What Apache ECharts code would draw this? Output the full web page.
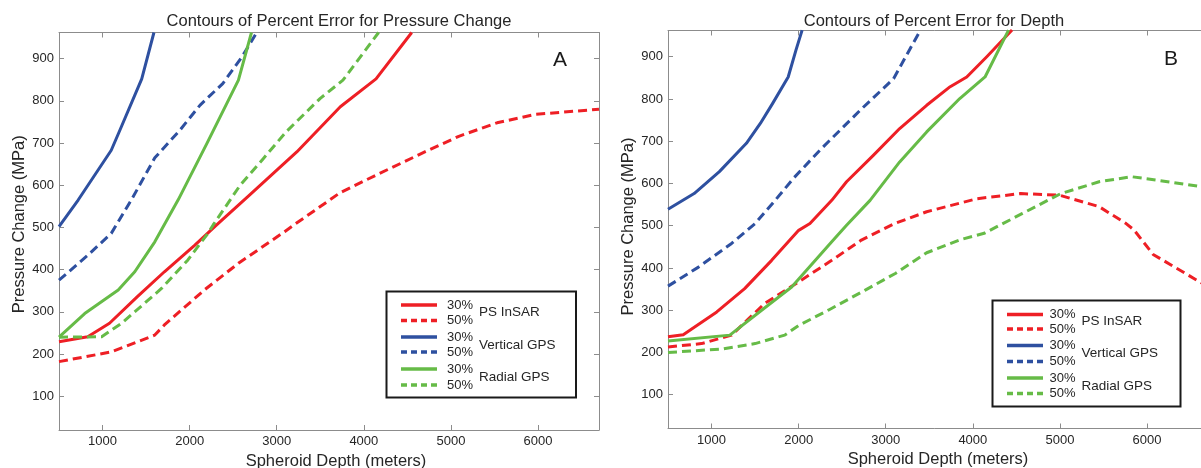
<!DOCTYPE html>
<html>
<head>
<meta charset="utf-8">
<script src="https://cdn.jsdelivr.net/npm/echarts@6/dist/echarts.min.js"></script>
<style>
html,body{margin:0;padding:0;background:#ffffff;}
#c{width:1201px;height:468px;}
</style>
</head>
<body>
<div id="c"></div>
<script>
// ---------- data ----------
const X_TICKS = [1000, 2000, 3000, 4000, 5000, 6000];
const Y_TICKS = [100, 200, 300, 400, 500, 600, 700, 800, 900];
const GROUPS = ['PS InSAR', 'Vertical GPS', 'Radial GPS'];
const LEVELS = ['30%', '50%'];
const TITLE_A = 'Contours of Percent Error for Pressure Change';
const TITLE_B = 'Contours of Percent Error for Depth';
const X_NAME = 'Spheroid Depth (meters)';
const Y_NAME = 'Pressure Change (MPa)';

// Panel A: pressure change error contours  [depth (m), pressure change (MPa)]
const A_PS_30 = [[500,229],[830,241],[1080,273],[1400,336],[1710,395],[2060,458],[2310,506],[2690,577],[3230,679],[3730,786],[4140,852],[4550,962]];
const A_PS_50 = [[500,182],[1100,205],[1600,245],[1710,269],[2170,352],[2560,415],[3090,490],[3190,505],[3725,582],[4180,628],[4700,679],[5090,716],[5530,748],[5970,768],[6700,780]];
const A_VERT_30 = [[500,502],[720,565],[1100,683],[1200,731],[1450,852],[1590,962]];
const A_VERT_50 = [[500,375],[830,434],[1100,486],[1330,565],[1600,665],[1890,731],[2120,790],[2380,841],[2600,904],[2770,962]];
const A_RAD_30 = [[500,240],[795,296],[1180,352],[1370,395],[1600,466],[1870,566],[2200,700],[2560,849],[2710,962]];
const A_RAD_50 = [[500,240],[990,241],[1220,273],[1680,356],[1980,423],[2210,486],[2270,506],[2580,600],[2845,663],[3110,727],[3500,806],[3760,849],[4170,962]];

// Panel B: depth error contours
const B_PS_30 = [[500,237],[675,242],[1060,296],[1380,351],[1690,418],[2000,489],[2130,505],[2380,560],[2550,604],[2860,667],[3160,730],[3470,785],[3740,829],[3930,852],[4160,900],[4450,963]];
const B_PS_50 = [[500,213],[885,221],[1230,241],[1610,316],[2030,371],[2380,418],[2720,466],[3100,505],[3470,533],[4050,564],[4550,576],[5000,572],[5450,545],[5760,505],[5850,490],[6070,432],[6630,364],[6700,356]];
const B_VERT_30 = [[500,539],[800,576],[1090,628],[1400,695],[1560,742],[1700,789],[1880,852],[1970,916],[2040,963]];
const B_VERT_50 = [[500,357],[850,402],[1230,458],[1500,505],[1730,560],[1940,612],[2245,679],[2705,773],[3090,848],[3280,919],[3400,963]];
const B_RAD_30 = [[500,227],[1210,241],[1575,300],[1920,355],[2380,462],[2550,501],[2820,560],[3160,651],[3470,722],[3850,801],[4140,852],[4410,963]];
const B_RAD_50 = [[500,200],[1115,208],[1500,221],[1840,241],[2000,264],[2340,300],[2760,347],[3110,387],[3470,436],[3860,467],[4130,482],[4570,529],[5010,576],[5450,604],[5820,616],[6110,608],[6700,590]];

const X_MIN = 500, X_MAX = 6700, Y_MIN = 20, Y_MAX = 962;

// ---------- styles ----------
const FONT = '"Liberation Sans", Arial, Helvetica, sans-serif';
const COLORS = ['#ee1f25', '#2e50a0', '#66bb47'];
const DASH = [9, 5];
const AXIS_COLOR = '#8c8c8c';
const TEXT_COLOR = '#262626';

const PANELS = [
  { sets: [[A_PS_30, A_PS_50], [A_VERT_30, A_VERT_50], [A_RAD_30, A_RAD_50]] },
  { sets: [[B_PS_30, B_PS_50], [B_VERT_30, B_VERT_50], [B_RAD_30, B_RAD_50]] }
];

const chart = echarts.init(document.getElementById('c'), null, { renderer: 'canvas' });

function xAxisDef(gi, pos, namePad, nameGap) {
  const main = pos === 'bottom';
  return {
    gridIndex: gi, type: 'value', position: pos, min: X_MIN, max: X_MAX, splitNumber: 6,
    axisLine: { show: true, onZero: false, lineStyle: { color: AXIS_COLOR, width: 1 } },
    axisTick: { show: true, inside: true, length: 5, lineStyle: { color: AXIS_COLOR, width: 1 } },
    axisLabel: {
      show: main, margin: 5, color: TEXT_COLOR, fontSize: 13, fontFamily: FONT,
      formatter: v => X_TICKS.includes(Math.round(v)) ? String(Math.round(v)) : ''
    },
    splitLine: { show: false },
    name: main ? X_NAME : '', nameLocation: 'middle', nameGap: nameGap,
    nameTextStyle: { color: TEXT_COLOR, fontSize: 16.5, fontFamily: FONT, padding: namePad }
  };
}
function yAxisDef(gi, pos, namePad, nameGap) {
  const main = pos === 'left';
  return {
    gridIndex: gi, type: 'value', position: pos, min: Y_MIN, max: Y_MAX, splitNumber: 9,
    axisLine: { show: true, onZero: false, lineStyle: { color: AXIS_COLOR, width: 1 } },
    axisTick: { show: true, inside: true, length: 5, lineStyle: { color: AXIS_COLOR, width: 1 } },
    axisLabel: {
      show: main, margin: 5, color: TEXT_COLOR, fontSize: 13, fontFamily: FONT,
      formatter: v => Y_TICKS.includes(Math.round(v)) ? String(Math.round(v)) : ''
    },
    splitLine: { show: false },
    name: main ? Y_NAME : '', nameLocation: 'middle', nameGap: nameGap,
    nameTextStyle: { color: TEXT_COLOR, fontSize: 16.5, fontFamily: FONT, padding: namePad }
  };
}

const series = [];
PANELS.forEach((p, pi) => {
  p.sets.forEach((pair, gi) => {
    pair.forEach((data, li) => {
      series.push({
        type: 'line', name: GROUPS[gi] + ' ' + LEVELS[li],
        xAxisIndex: pi * 2, yAxisIndex: pi * 2,
        data: data, showSymbol: false, symbol: 'none', clip: true, animation: false,
        lineStyle: { color: COLORS[gi], width: 3, type: li === 0 ? 'solid' : DASH, cap: 'butt', join: 'round' },
        z: 3
      });
    });
  });
});

// legend boxes drawn as graphics
const LEG = [
  { box: [386.5, 291.5, 189.5, 106], lx: [401, 437], rows: [305, 320.5, 337, 352, 369, 385], px: 447, gx: 479, gy: [312.5, 345, 377.5] },
  { box: [992.5, 300.5, 188, 106], lx: [1007, 1043], rows: [314.5, 329, 345.5, 361.5, 378, 393.5], px: 1049.5, gx: 1081.5, gy: [321, 353.5, 386] }
];
const graphics = [];
LEG.forEach(L => {
  graphics.push({ type: 'rect', shape: { x: L.box[0], y: L.box[1], width: L.box[2], height: L.box[3] },
    style: { fill: '#ffffff', stroke: '#1a1a1a', lineWidth: 2 }, z: 10 });
  GROUPS.forEach((g, gi) => {
    LEVELS.forEach((lv, li) => {
      const y = L.rows[gi * 2 + li];
      graphics.push({ type: 'line', shape: { x1: L.lx[0], y1: y, x2: L.lx[1], y2: y },
        style: { stroke: COLORS[gi], lineWidth: 3.5, lineDash: li === 0 ? null : [6, 4] }, z: 11 });
      graphics.push({ type: 'text', x: L.px, y: y, style: { text: lv, fill: TEXT_COLOR, font: '13px ' + FONT, textVerticalAlign: 'middle', verticalAlign: 'middle' }, z: 11 });
    });
    graphics.push({ type: 'text', x: L.gx, y: L.gy[gi], style: { text: g, fill: TEXT_COLOR, font: '13.5px ' + FONT, textVerticalAlign: 'middle', verticalAlign: 'middle' }, z: 11 });
  });
});
graphics.push({ type: 'text', x: 560, y: 60, style: { text: 'A', fill: '#1a1a1a', font: '21px ' + FONT, align: 'center', verticalAlign: 'middle' }, z: 11 });
graphics.push({ type: 'text', x: 1171, y: 59, style: { text: 'B', fill: '#1a1a1a', font: '21px ' + FONT, align: 'center', verticalAlign: 'middle' }, z: 11 });

const option = {
  backgroundColor: '#ffffff',
  animation: false,
  title: [
    { text: TITLE_A, left: 334, top: 8, textAlign: 'center', textStyle: { fontSize: 16.5, fontWeight: 'normal', color: TEXT_COLOR, fontFamily: FONT } },
    { text: TITLE_B, left: 929, top: 8, textAlign: 'center', textStyle: { fontSize: 16.5, fontWeight: 'normal', color: TEXT_COLOR, fontFamily: FONT } }
  ],
  grid: [
    { left: 59, top: 32.5, width: 540, height: 397.5, containLabel: false, outerBoundsMode: 'none' },
    { left: 668, top: 30.5, width: 540, height: 398, containLabel: false, outerBoundsMode: 'none' }
  ],
  xAxis: [
    xAxisDef(0, 'bottom', [0, 0, 0, 14], 21),
    xAxisDef(0, 'top', 0, 0),
    xAxisDef(1, 'bottom', 0, 14),
    xAxisDef(1, 'top', 0, 0)
  ],
  yAxis: [
    yAxisDef(0, 'left', [0, 0, 0, 14], 31),
    yAxisDef(0, 'right', 0, 0),
    yAxisDef(1, 'left', [0, 0, 0, 6], 30),
    yAxisDef(1, 'right', 0, 0)
  ],
  series: series,
  graphic: graphics
};
chart.setOption(option);
</script>
</body>
</html>
